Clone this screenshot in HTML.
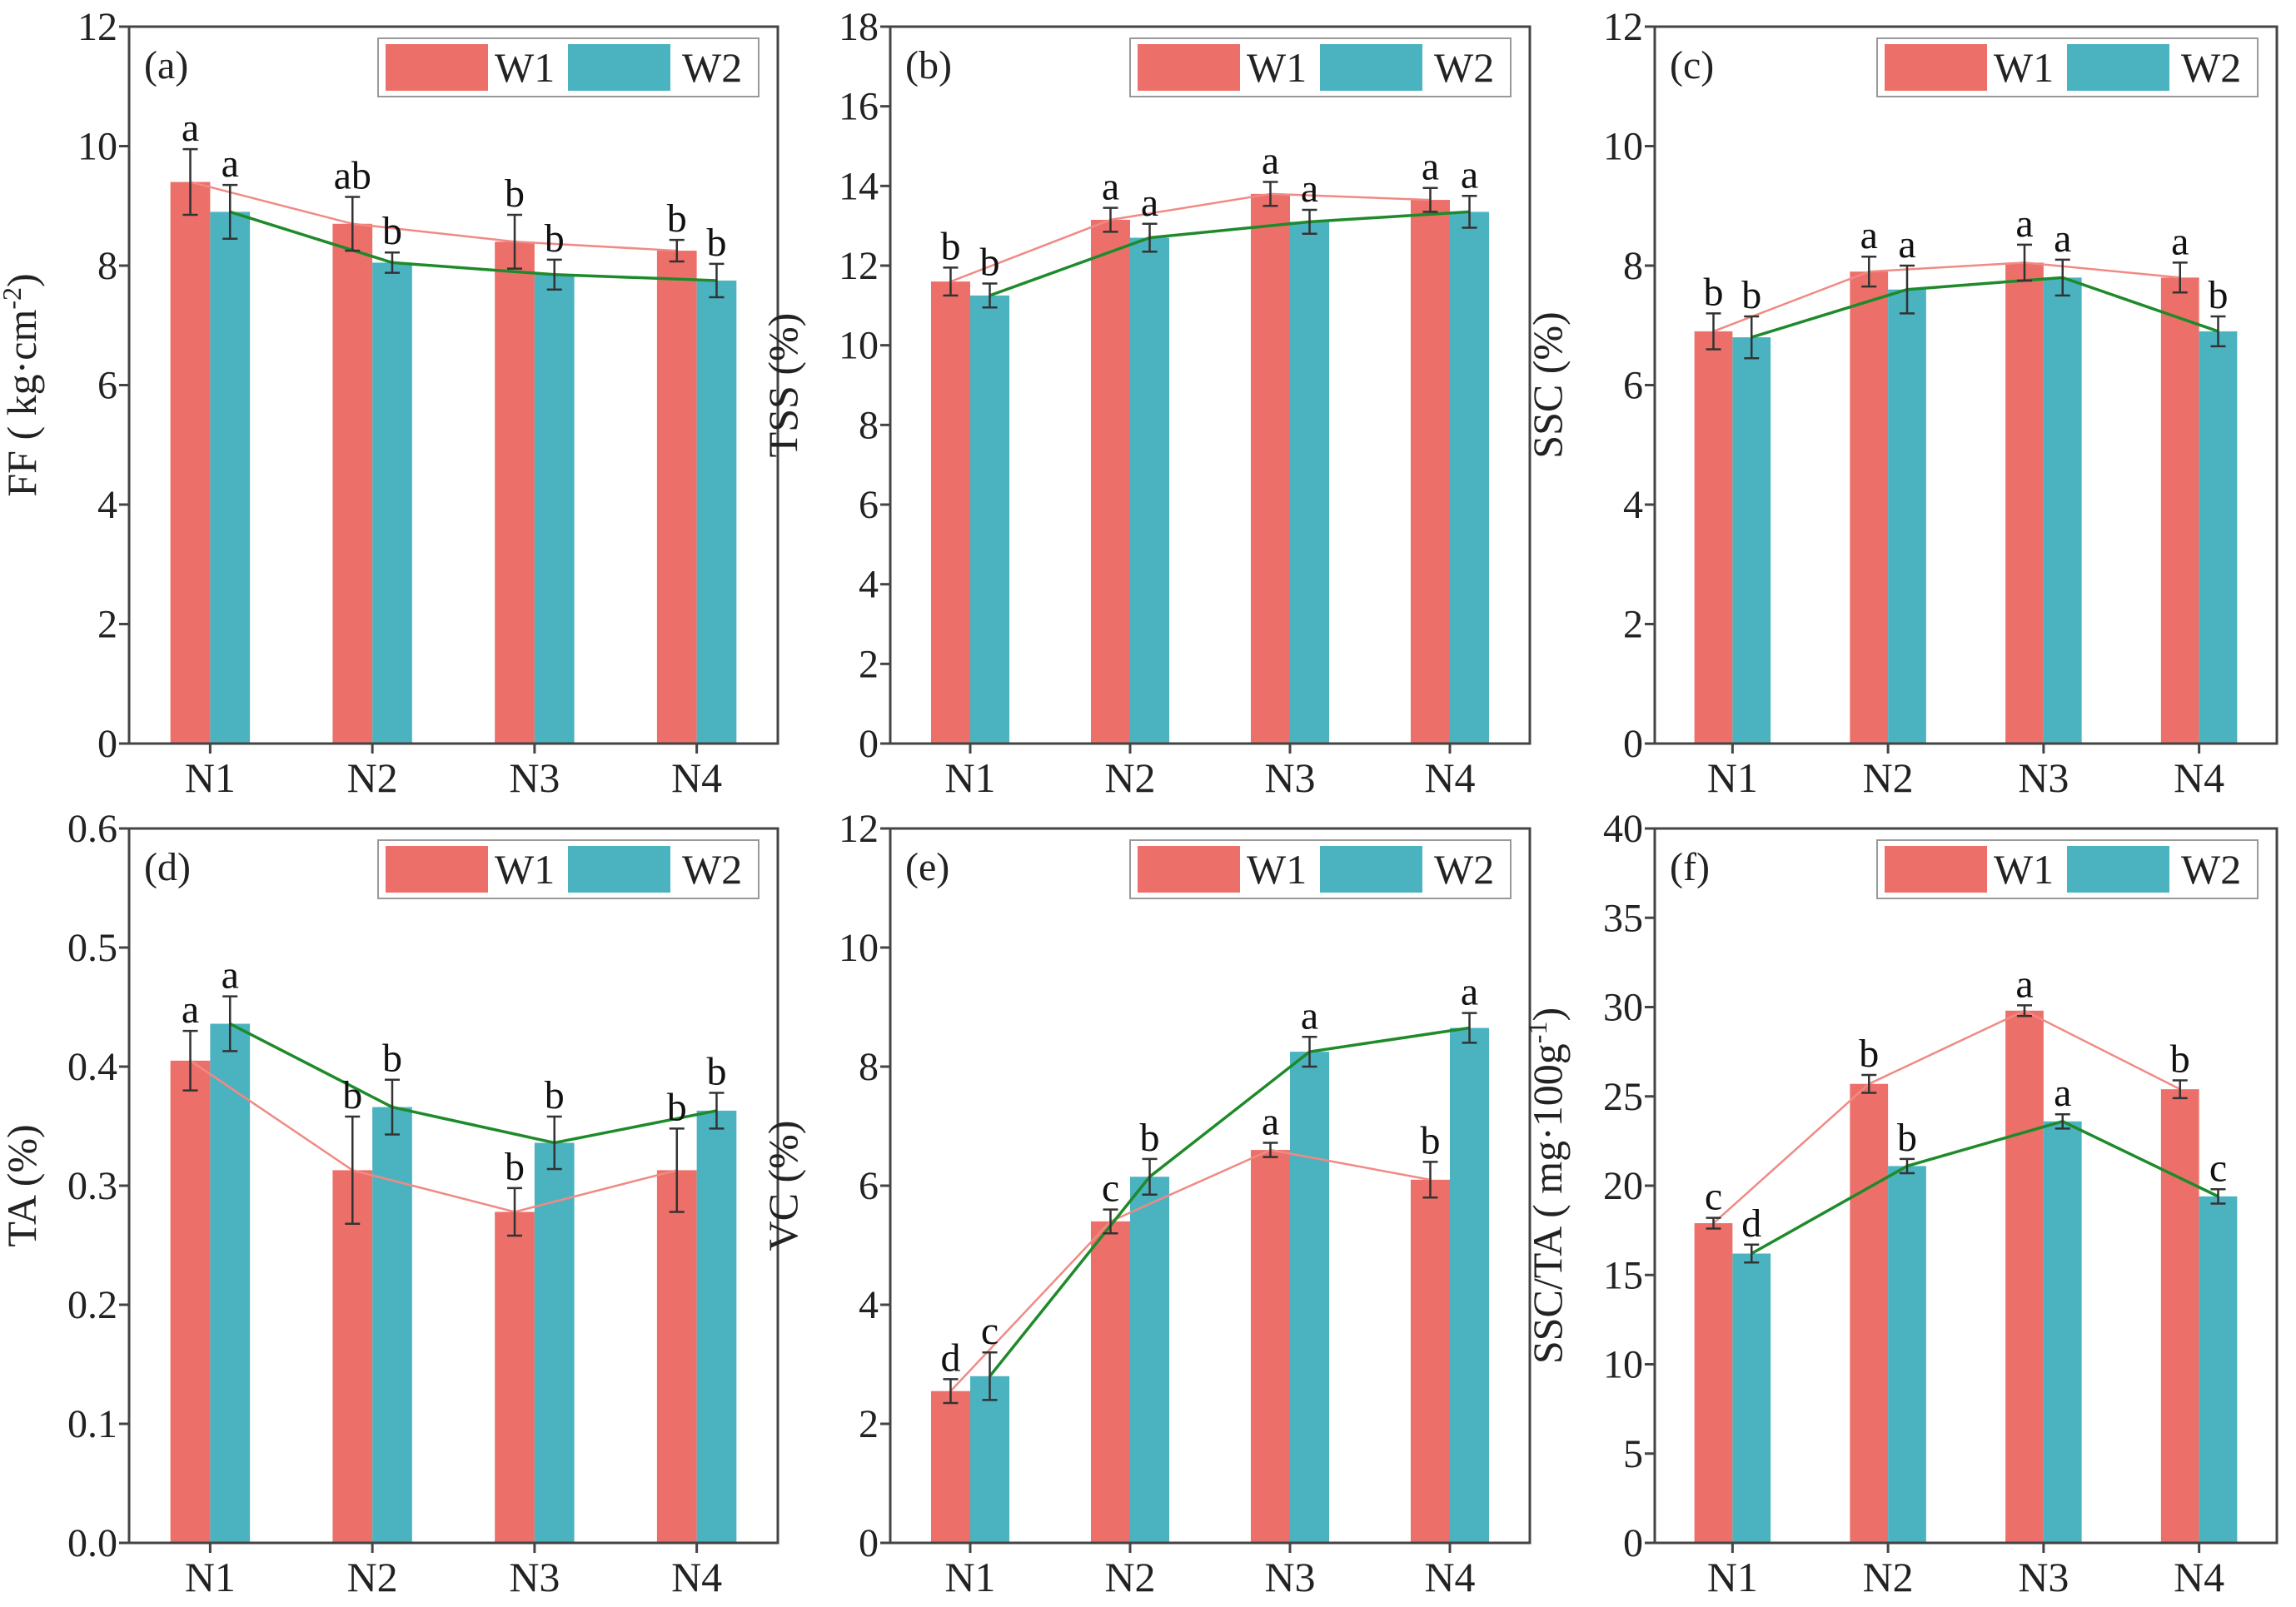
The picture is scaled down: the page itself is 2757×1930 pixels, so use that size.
<!DOCTYPE html>
<html><head><meta charset="utf-8">
<style>
html,body{margin:0;padding:0;background:#fff;}
svg, svg text{font-family:"Liberation Serif","Times New Roman","DejaVu Serif",serif;}
</style></head>
<body>
<svg id="fig" width="2757" height="1925" viewBox="0 0 2757 1925" xmlns="http://www.w3.org/2000/svg" font-family="Liberation Serif, serif"></svg>
<script>
const categories = ["N1","N2","N3","N4"];
const seriesNames = ["W1","W2"];

const ffW1 = [9.4, 8.7, 8.4, 8.25];
const ffW1Err = [0.55, 0.45, 0.45, 0.18];
const ffW2 = [8.9, 8.05, 7.85, 7.75];
const ffW2Err = [0.45, 0.17, 0.25, 0.28];
const ffW1Sig = ["a","ab","b","b"];
const ffW2Sig = ["a","b","b","b"];
const ffTicks = [0,2,4,6,8,10,12];

const tssW1 = [11.6, 13.15, 13.8, 13.65];
const tssW1Err = [0.35, 0.3, 0.3, 0.3];
const tssW2 = [11.25, 12.7, 13.1, 13.35];
const tssW2Err = [0.3, 0.35, 0.3, 0.4];
const tssW1Sig = ["b","a","a","a"];
const tssW2Sig = ["b","a","a","a"];
const tssTicks = [0,2,4,6,8,10,12,14,16,18];

const sscW1 = [6.9, 7.9, 8.05, 7.8];
const sscW1Err = [0.3, 0.25, 0.3, 0.25];
const sscW2 = [6.8, 7.6, 7.8, 6.9];
const sscW2Err = [0.35, 0.4, 0.3, 0.25];
const sscW1Sig = ["b","a","a","a"];
const sscW2Sig = ["b","a","a","b"];
const sscTicks = [0,2,4,6,8,10,12];

const taW1 = [0.405, 0.313, 0.278, 0.313];
const taW1Err = [0.025, 0.045, 0.02, 0.035];
const taW2 = [0.436, 0.366, 0.336, 0.363];
const taW2Err = [0.023, 0.023, 0.022, 0.015];
const taW1Sig = ["a","b","b","b"];
const taW2Sig = ["a","b","b","b"];
const taTicks = [0.0,0.1,0.2,0.3,0.4,0.5,0.6];

const vcW1 = [2.55, 5.4, 6.6, 6.1];
const vcW1Err = [0.2, 0.2, 0.12, 0.3];
const vcW2 = [2.8, 6.15, 8.25, 8.65];
const vcW2Err = [0.4, 0.3, 0.25, 0.25];
const vcW1Sig = ["d","c","a","b"];
const vcW2Sig = ["c","b","a","a"];
const vcTicks = [0,2,4,6,8,10,12];

const ratioW1 = [17.9, 25.7, 29.8, 25.4];
const ratioW1Err = [0.3, 0.5, 0.3, 0.5];
const ratioW2 = [16.2, 21.1, 23.6, 19.4];
const ratioW2Err = [0.5, 0.4, 0.4, 0.4];
const ratioW1Sig = ["c","b","a","b"];
const ratioW2Sig = ["d","b","a","c"];
const ratioTicks = [0,5,10,15,20,25,30,35,40];

const NS="http://www.w3.org/2000/svg";
const svg=document.getElementById('fig');
const FONT="Liberation Serif, Times New Roman, serif";
const RED="#EC7069", TEAL="#4BB3C0", LRED="#F08A84", GREEN="#1E8A2A";
function mk(tag,attrs,parent){const e=document.createElementNS(NS,tag);for(const k in attrs)e.setAttribute(k,attrs[k]);if(tag==='text')e.setAttribute('font-family',FONT);(parent||svg).appendChild(e);return e;}

const panels=[
 {id:"a",label:"(a)",x0:155,x1:934,y0:32,y1:893,ticks:ffTicks,dec:0,w1:ffW1,e1:ffW1Err,w2:ffW2,e2:ffW2Err,s1:ffW1Sig,s2:ffW2Sig,title:["FF ( kg·cm","-2",")"]},
 {id:"b",label:"(b)",x0:1069,x1:1837,y0:32,y1:893,ticks:tssTicks,dec:0,w1:tssW1,e1:tssW1Err,w2:tssW2,e2:tssW2Err,s1:tssW1Sig,s2:tssW2Sig,title:["TSS (%)"]},
 {id:"c",label:"(c)",x0:1987,x1:2734,y0:32,y1:893,ticks:sscTicks,dec:0,w1:sscW1,e1:sscW1Err,w2:sscW2,e2:sscW2Err,s1:sscW1Sig,s2:sscW2Sig,title:["SSC (%)"]},
 {id:"d",label:"(d)",x0:155,x1:934,y0:995,y1:1853,ticks:taTicks,dec:1,w1:taW1,e1:taW1Err,w2:taW2,e2:taW2Err,s1:taW1Sig,s2:taW2Sig,title:["TA (%)"]},
 {id:"e",label:"(e)",x0:1069,x1:1837,y0:995,y1:1853,ticks:vcTicks,dec:0,w1:vcW1,e1:vcW1Err,w2:vcW2,e2:vcW2Err,s1:vcW1Sig,s2:vcW2Sig,title:["VC (%)"]},
 {id:"f",label:"(f)",x0:1987,x1:2734,y0:995,y1:1853,ticks:ratioTicks,dec:0,w1:ratioW1,e1:ratioW1Err,w2:ratioW2,e2:ratioW2Err,s1:ratioW1Sig,s2:ratioW2Sig,title:["SSC/TA ( mg·100g","-1",")"]}
];

panels.forEach(p=>{
  const g=mk('g',{});
  
  
  const tmax=p.ticks[p.ticks.length-1], tmin=p.ticks[0];
  const y=v=>p.y1-(v-tmin)/(tmax-tmin)*(p.y1-p.y0);
  const band=(p.x1-p.x0)/categories.length;
  const cx=i=>p.x0+(i+0.5)*band;
  const bw=band*0.245;
  const series=[{v:p.w1,e:p.e1,s:p.s1,c:RED,lc:LRED,lw:2.5,off:-bw/2},{v:p.w2,e:p.e2,s:p.s2,c:TEAL,lc:GREEN,lw:3.5,off:bw/2}];
  series.forEach((s,si)=>{
    s.v.forEach((v,i)=>{
      const r=mk('rect',{x:cx(i)+s.off-bw/2,y:y(v),width:bw,height:p.y1-y(v),fill:s.c},g);
      
      
    });
  });
  series.forEach((s,si)=>{
    const pts=s.v.map((v,i)=>(cx(i)+s.off)+','+y(v)).join(' ');
    const l=mk('polyline',{points:pts,fill:'none',stroke:s.lc,'stroke-width':s.lw},g);
    
    
  });
  series.forEach((s,si)=>{
    s.v.forEach((v,i)=>{
      const x=cx(i)+s.off, hi=y(v+s.e[i]), lo=y(v-s.e[i]);
      const eb=mk('path',{d:`M${x},${hi}V${lo}M${x-9},${hi}H${x+9}M${x-9},${lo}H${x+9}`,stroke:'#333',fill:'none','stroke-width':2.5},g);
      
      
      const t=mk('text',{x:x,y:hi-10,'text-anchor':'middle','font-size':48,fill:'#111'},g);
      t.textContent=s.s[i];
      
      
    });
  });
  const fr=mk('rect',{x:p.x0,y:p.y0,width:p.x1-p.x0,height:p.y1-p.y0,fill:'none',stroke:'#444','stroke-width':3},g);
  
  
  p.ticks.forEach(tv=>{
    mk('line',{x1:p.x0-12,x2:p.x0,y1:y(tv),y2:y(tv),stroke:'#444','stroke-width':3},g);
    const t=mk('text',{x:p.x0-14,y:y(tv)+16,'text-anchor':'end','font-size':48,fill:'#222'},g);
    t.textContent=tv.toFixed(p.dec);
    
    
  });
  categories.forEach((c,i)=>{
    mk('line',{x1:cx(i),x2:cx(i),y1:p.y1,y2:p.y1+12,stroke:'#444','stroke-width':3},g);
    const t=mk('text',{x:cx(i),y:p.y1+58,'text-anchor':'middle','font-size':50,fill:'#222'},g);
    t.textContent=c;
    
    
  });
  const ty=(p.y0+p.y1)/2, tx=p.x0-112;
  const tt=mk('text',{x:tx,y:ty,'text-anchor':'middle','font-size':50,fill:'#222',transform:`rotate(-90 ${tx} ${ty})`},g);
  
  
  if(p.title.length===1){tt.textContent=p.title[0];}
  else{
    const a=mk('tspan',{},tt);a.textContent=p.title[0];
    const b=mk('tspan',{dy:-18,'font-size':32},tt);b.textContent=p.title[1];
    const c=mk('tspan',{dy:18},tt);c.textContent=p.title[2];
  }
  const pl=mk('text',{x:p.x0+18,y:p.y0+62,'font-size':48,fill:'#222'},g);
  pl.textContent=p.label;
  
  
  const lw=457, lx=p.x1-23-lw, ly=p.y0+14;
  const lg=mk('g',{},g);
  
  
  mk('rect',{x:lx,y:ly,width:lw,height:70,fill:'#fff',stroke:'#999','stroke-width':2},lg);
  mk('rect',{x:lx+9,y:ly+7,width:123,height:56,fill:RED},lg);
  const t1=mk('text',{x:lx+140,y:ly+52,'font-size':50,fill:'#222'},lg);t1.textContent="W1";
  
  
  mk('rect',{x:lx+228,y:ly+7,width:123,height:56,fill:TEAL},lg);
  const t2=mk('text',{x:lx+365,y:ly+52,'font-size':50,fill:'#222'},lg);t2.textContent="W2";
  
  
});
</script>
</body></html>
